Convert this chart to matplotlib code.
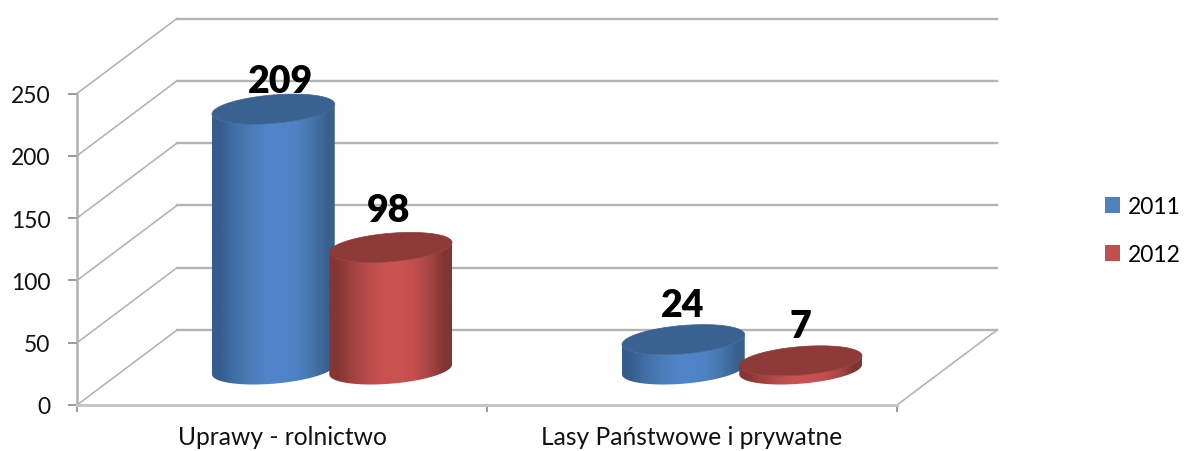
import numpy as np
import matplotlib
matplotlib.use("Agg")
import matplotlib.pyplot as plt
from matplotlib.colors import to_rgb
from matplotlib.patches import Patch, PathPatch, Polygon
from matplotlib.path import Path

categories = ["Uprawy - rolnictwo", "Lasy Państwowe i prywatne"]
series_names = ["2011", "2012"]
values_2011 = [209, 24]
values_2012 = [98, 7]
y_ticks = [0, 50, 100, 150, 200, 250]

plt.rcParams["font.family"] = ["Lato", "DejaVu Sans"]

W, H = 1184, 452
LEFT, RIGHT, BOTTOM, TOP = 77, 897, 406, 94.5  # plot front plane, in pixels
DEPTH_X = 100 / 410                            # category units per full depth
DEPTH_Y = 75 / (311.5 / 250)                   # value units per full depth
RADIUS = 0.1415
ELL_D = 0.20
BAR_OFFSET = 0.143
BAR_SHIFT = 0.0066
BAR_DEPTH = 0.473

fig = plt.figure(figsize=(W / 100, H / 100), dpi=100, facecolor="white")
ax = fig.add_axes([LEFT / W, 1 - BOTTOM / H, (RIGHT - LEFT) / W, (BOTTOM - TOP) / H])


def project(x, v, d):
    return x + DEPTH_X * d, v + DEPTH_Y * d


def ellipse(cx, v, t):
    d = BAR_DEPTH + ELL_D * np.sin(t)
    return project(cx + RADIUS * np.cos(t), v, d)


# walls: gridlines
for v in y_ticks:
    xs, ys = project(np.array([0, 0, 2]), v, np.array([0, 1, 1]))
    ax.plot(xs[:2], ys[:2], color="#b4b4b4", lw=1.2, clip_on=False, zorder=1)
    ax.plot(xs[1:], ys[1:], color="#b4b4b4", lw=1.7, clip_on=False, zorder=1)
xs, ys = project(np.array([2, 2]), 0, np.array([0, 1]))
ax.plot(xs, ys, color="#b4b4b4", lw=1.2, clip_on=False, zorder=1)

T_R = np.arctan2(DEPTH_X * ELL_D, RADIUS)
T_L = T_R + np.pi
front = np.linspace(T_L, T_R + 2 * np.pi, 80)
whole = np.linspace(0, 2 * np.pi, 160)


def cylinder(cx, value, stops, top_colour, z):
    bx, by = ellipse(cx, 0, front)
    tx, ty = ellipse(cx, value, front)
    verts = np.vstack([np.c_[bx, by], np.c_[tx, ty][::-1], [[bx[0], by[0]]]])
    clip = PathPatch(Path(verts), transform=ax.transData, fc="none", ec="none")
    ax.add_patch(clip)
    grad = np.array([[to_rgb(c) for c in stops]])
    im = ax.imshow(grad, extent=(bx.min(), bx.max(), by.min(), ty.max()),
                   aspect="auto", interpolation="bilinear", zorder=z, origin="lower")
    im.set_clip_path(clip)
    ex, ey = ellipse(cx, value, whole)
    ax.add_patch(Polygon(np.c_[ex, ey], closed=True, fc=top_colour, ec=top_colour,
                         lw=0.5, clip_on=False, zorder=z + 0.1))


BLUE_STOPS = ["#355c8c", "#416fa6", "#4a7bb8", "#5084c8", "#5084c8", "#4f82c4", "#4675aa", "#38608f"]
RED_STOPS = ["#843634", "#a04240", "#b84c4a", "#c9514f", "#cb5250", "#c44f4d", "#a84644", "#7f3533"]
BLUE_TOP = "#3a6290"
RED_TOP = "#8e3a38"

label_offsets = [[(7, 28), (-2, 37)], [(-1, 35), (0, 35)]]   # pixels above cylinder top
for i, (a, b) in enumerate(zip(values_2011, values_2012)):
    c = i + 0.5 + BAR_SHIFT
    cylinder(c - BAR_OFFSET, a, BLUE_STOPS, BLUE_TOP, 3 + 2 * i)
    cylinder(c + BAR_OFFSET, b, RED_STOPS, RED_TOP, 4 + 2 * i)
    for cx, val, off in zip((c - BAR_OFFSET, c + BAR_OFFSET), (a, b), label_offsets[i]):
        px, py = project(cx, val, BAR_DEPTH)
        ax.annotate(str(val), (px, py), xytext=(off[0] * 0.72, off[1] * 0.72),
                    textcoords="offset points", ha="center", va="center",
                    fontsize=27, fontweight="heavy", color="black", zorder=20,
                    annotation_clip=False)

ax.set_xlim(0, 2)
ax.set_ylim(0, 250)
ax.patch.set_alpha(0)
for s in ("top", "right"):
    ax.spines[s].set_visible(False)
ax.spines["left"].set_color("#b0b0b0")
ax.spines["left"].set_linewidth(1.8)
ax.spines["bottom"].set_color("#c6c6c6")
ax.spines["bottom"].set_linewidth(2.2)
ax.set_yticks(y_ticks)
ax.tick_params(axis="y", length=6.5, width=1.1, color="#808080", pad=12.5, labelsize=16.5, labelcolor="#111111")
ax.set_xticks([0, 1, 2])
ax.set_xticklabels([])
ax.tick_params(axis="x", which="major", length=5, width=1.1, color="#808080")
ax.set_xticks([0.5, 1.5], minor=True)
ax.set_xticklabels(categories, minor=True)
ax.tick_params(axis="x", which="minor", length=0, pad=14.5, labelsize=17.7, labelcolor="#111111")

handles = [Patch(fc="#4f81bd", ec="none", label=series_names[0]),
           Patch(fc="#c0504d", ec="none", label=series_names[1])]
fig.legend(handles=handles, loc="center left", bbox_to_anchor=(1098 / W, 1 - 231.5 / H),
           frameon=False, fontsize=16.5, handlelength=0.66, handleheight=0.66,
           handletextpad=0.33, labelspacing=1.17, borderpad=0.3, borderaxespad=0)

fig.savefig("out.png", dpi=100)
